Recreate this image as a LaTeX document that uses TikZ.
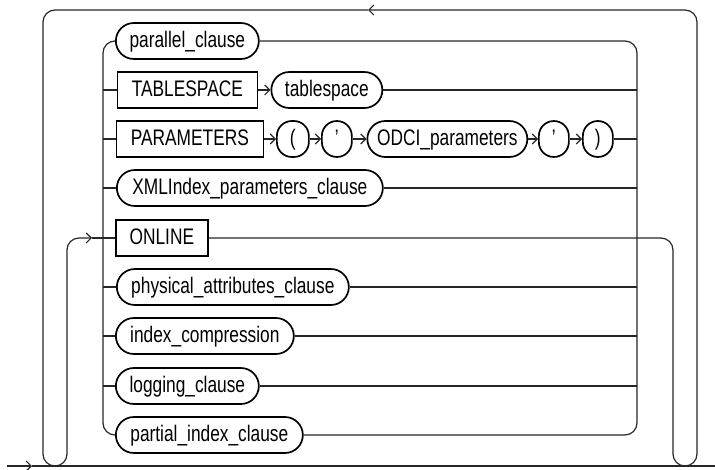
\documentclass[tikz,border=0pt]{standalone}
\usepackage{fontspec}
\setmainfont[FakeStretch=0.77]{Liberation Sans}
\usetikzlibrary{arrows.meta}
\begin{document}
\begin{tikzpicture}[x=1pt,y=-1pt,
  line/.style={line width=1.2pt, draw=black!85},
  arr/.style={line, -{Straight Barb[length=5pt,width=10pt,line width=1.1pt]}},
  term/.style={draw=black, line width=1.7pt, rectangle, minimum height=36pt, inner sep=0pt,
    text height=15.75pt, text depth=2.35pt, font=\fontsize{22.5}{22.5}\selectfont, anchor=west},
  nterm/.style={term, rounded corners=18pt},
  sym/.style={term, rounded corners=15pt, minimum width=30pt}
]
\useasboundingbox (0,0) rectangle (715,470);

% rows
\node[nterm, minimum width=143pt] (par) at (115,41) {parallel\_clause};
\node[term, minimum width=140pt] (tsk) at (116.5,90) {TABLESPACE};
\node[nterm, minimum width=111pt] (tsv) at (270.5,90) {tablespace};
\node[term, minimum width=147pt] (pmk) at (115.5,139) {PARAMETERS};
\node[sym, minimum width=32pt] (lp) at (276,139) {(};
\node[sym] (q1) at (321,139) {\textquoteright};
\node[nterm, minimum width=160pt] (odci) at (366.5,139) {ODCI\_parameters};
\node[sym] (q2) at (538,139) {\textquoteright};
\node[sym] (rp) at (582,139) {)};
\node[nterm, minimum width=266pt] (xml) at (116,188) {XMLIndex\_parameters\_clause};
\node[term, minimum width=92pt] (onl) at (115,238) {ONLINE};
\node[nterm, minimum width=232pt] (phy) at (116,287) {physical\_attributes\_clause};
\node[nterm, minimum width=178pt] (idx) at (115,336) {index\_compression};
\node[nterm, minimum width=143pt] (log) at (115,386) {logging\_clause};
\node[nterm, minimum width=187pt] (pic) at (115,435) {partial\_index\_clause};

% rails
\coordinate (L) at (103,0);
\coordinate (R) at (637,0);
\draw[line, rounded corners=12pt] (par.west) -- (par.west -| L) -- (pic.west -| L) -- (pic.west);
\draw[line, rounded corners=12pt] (par.east) -- (par.east -| R) -- (pic.east -| R) -- (pic.east);
\foreach \n in {tsk,pmk,xml,phy,idx,log} \draw[line] (\n.west -| L) -- (\n.west);
\foreach \n in {tsv,rp,xml,phy,idx,log} \draw[line] (\n.east) -- (\n.east -| R);

% sequences
\draw[arr] (tsk.east) -- (tsv.west);
\draw[arr] (pmk.east) -- (lp.west);
\draw[arr] (lp.east) -- (q1.west);
\draw[arr] (q1.east) -- (odci.west);
\draw[arr] (odci.east) -- (q2.west);
\draw[arr] (q2.east) -- (rp.west);

% outer loop
\coordinate (rd) at (673,238);
\coordinate (ru1) at (673,466);
\coordinate (ru2) at (697,466);
\coordinate (rt) at (697,10);
\coordinate (ta) at (368,10);
\coordinate (lt) at (43,10);
\coordinate (lu1) at (43,466);
\coordinate (lu2) at (67,466);
\coordinate (lo) at (67,238);
\coordinate (oa) at (92,238);
\draw[arr, rounded corners=12pt] (onl.east) -- (rd) -- (ru1) -- (ru2) -- (rt) -- (ta);
\draw[arr, rounded corners=12pt] (ta) -- (lt) -- (lu1) -- (lu2) -- (lo) -- (oa);
\draw[line] (oa) -- (onl.west);

% main line
\coordinate (st) at (7,466);
\coordinate (ma) at (32,466);
\coordinate (en) at (715,466);
\draw[arr] (st) -- (ma);
\draw[line] (ma) -- (en);
\end{tikzpicture}
\end{document}
